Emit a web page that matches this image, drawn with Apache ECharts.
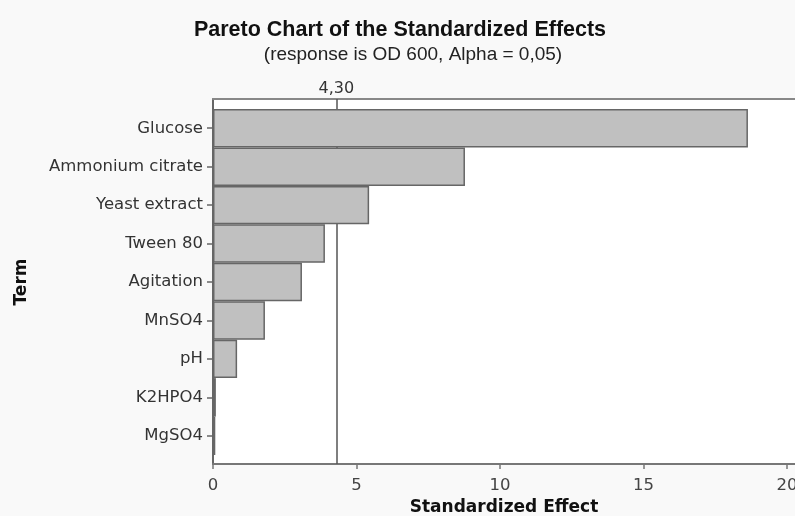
<!DOCTYPE html>
<html>
<head>
<meta charset="utf-8">
<script src="https://cdn.jsdelivr.net/npm/echarts@6/dist/echarts.min.js"></script>
<style>html,body{margin:0;padding:0;background:#f9f9f9;}#c{width:795px;height:516px;}</style>
</head>
<body>
<div id="c"></div>
<script>
const terms = ['Glucose','Ammonium citrate','Yeast extract','Tween 80','Agitation','MnSO4','pH','K2HPO4','MgSO4'];
const effects = [18.64, 8.78, 5.44, 3.90, 3.10, 1.81, 0.84, 0.10, 0.08];
const critical = 4.30;
const criticalLabel = '4,30';
const xTicks = [0, 5, 10, 15, 20];

const chart = echarts.init(document.getElementById('c'));
const xMax = 20.28;
const labelFont = 'DejaVu Sans';
chart.setOption({
  backgroundColor: '#f9f9f9',
  animation: false,
  title: [{
    text: 'Pareto Chart of the Standardized Effects',
    left: 395, top: 14, textAlign: 'center',
    textStyle: {fontFamily: 'Liberation Sans', fontWeight: 'bold', fontSize: 21.5, color: '#111'}
  }, {
    text: '(response is OD 600, Alpha = 0,05)',
    left: 408, top: 40, textAlign: 'center',
    textStyle: {fontFamily: 'Liberation Sans', fontWeight: 'normal', fontSize: 19, color: '#222'}
  }],
  grid: [
    {left: 213, right: 0, top: 99, bottom: 52, show: true, backgroundColor: '#fff', borderWidth: 0, containLabel: false, outerBoundsMode: 'none'},
    {left: 213, right: 0, top: 109, bottom: 61, show: false, containLabel: false, outerBoundsMode: 'none'}
  ],
  xAxis: [{
    gridIndex: 0, type: 'value', min: 0, max: xMax, interval: 5,
    axisLine: {show: true, lineStyle: {color: '#777', width: 2}},
    axisTick: {show: true, length: 5, lineStyle: {color: '#777', width: 1.5}},
    axisLabel: {showMaxLabel: false, fontFamily: labelFont, fontSize: 16.5, color: '#444', margin: 13,
      formatter: v => xTicks.includes(v) ? String(v) : ''},
    splitLine: {show: false},
    name: 'Standardized Effect', nameLocation: 'middle', nameGap: 35,
    nameTextStyle: {fontFamily: labelFont, fontWeight: 'bold', fontSize: 17, color: '#111', align: 'center'}
  }, {
    gridIndex: 0, type: 'value', min: 0, max: xMax, position: 'top',
    axisLine: {show: true, lineStyle: {color: '#888', width: 2}},
    axisTick: {show: false}, axisLabel: {show: false}, splitLine: {show: false}
  }, {
    gridIndex: 1, type: 'value', min: 0, max: xMax, show: false
  }],
  yAxis: [{
    gridIndex: 0, type: 'value', min: 0, max: 1, position: 'left',
    axisLine: {show: true, lineStyle: {color: '#666', width: 2}},
    axisTick: {show: false}, axisLabel: {show: false}, splitLine: {show: false}
  }, {
    gridIndex: 1, type: 'category', data: terms, inverse: true,
    axisLine: {show: true, lineStyle: {color: '#666', width: 2}},
    axisTick: {show: true, alignWithLabel: true, length: 6, lineStyle: {color: '#666', width: 1.5}},
    axisLabel: {fontFamily: labelFont, fontSize: 16.5, color: '#333', margin: 10},
    name: 'Term', nameLocation: 'middle', nameGap: 183, nameRotate: 90,
    nameTextStyle: {fontFamily: labelFont, fontWeight: 'bold', fontSize: 17, color: '#111'}
  }],
  series: [{
    type: 'bar', xAxisIndex: 2, yAxisIndex: 1, data: effects, z: 5,
    barCategoryGap: 0, barWidth: '100%',
    itemStyle: {color: '#c0c0c0', borderColor: '#666', borderWidth: 1.5}
  }, {
    type: 'scatter', xAxisIndex: 0, yAxisIndex: 0, data: [], z: 1,
    markLine: {
      silent: true, symbol: 'none', z: 1,
      lineStyle: {color: '#555', width: 1.5, type: 'solid'},
      label: {show: true, position: 'end', formatter: criticalLabel, fontFamily: labelFont, fontSize: 16, color: '#333', distance: 2},
      data: [{xAxis: critical}]
    }
  }]
});
</script>
</body>
</html>
